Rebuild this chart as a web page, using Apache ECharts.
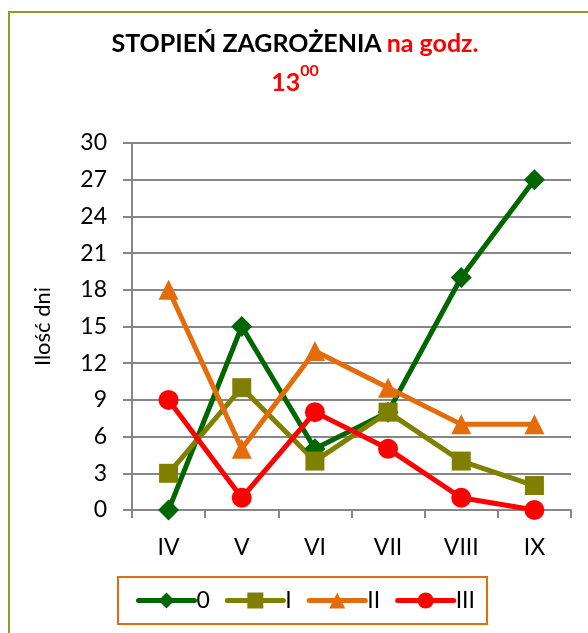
<!DOCTYPE html>
<html>
<head>
<meta charset="utf-8">
<script src="https://cdn.jsdelivr.net/npm/echarts@6/dist/echarts.min.js"></script>
<style>
  html, body { margin: 0; padding: 0; background: #fff; }
  #chart { width: 588px; height: 633px; }
</style>
</head>
<body>
<div id="chart"></div>
<script>
// miesiące
const months = ['IV', 'V', 'VI', 'VII', 'VIII', 'IX']
// stopnie zagrożenia
const level0 = [0, 15, 5, 8, 19, 27]
const level1 = [3, 10, 4, 8, 4, 2]
const level2 = [18, 5, 13, 10, 7, 7]
const level3 = [9, 1, 8, 5, 1, 0]
const seriesNames = ['0', 'I', 'II', 'III']
const yTicks = [0, 3, 6, 9, 12, 15, 18, 21, 24, 27, 30]

const font = 'Lato, "Open Sans", sans-serif'
const gray = '#878787'

const chart = echarts.init(document.getElementById('chart'))

const makeSeries = (name, data, color, symbol, size) => ({
  name,
  type: 'line',
  data,
  symbol,
  symbolSize: size,
  showSymbol: true,
  lineStyle: { color, width: 5 },
  itemStyle: { color },
  emphasis: { disabled: true }
})

chart.setOption({
  animation: false,
  backgroundColor: '#fff',
  graphic: [{
    type: 'rect',
    shape: { x: 9, y: 12, width: 640, height: 700 },
    style: { fill: 'none', stroke: '#939a2c', lineWidth: 2 }
  }],
  title: {
    text: '{b|STOPIEŃ ZAGROŻENIA} {r|na godz.}\n{r|13}{s|00}',
    left: 290,
    textAlign: 'center',
    top: 19,
    textStyle: {
      rich: {
        b: { fontFamily: font, fontWeight: 'bold', fontSize: 25, color: '#000', lineHeight: 39 },
        r: { fontFamily: font, fontWeight: 'bold', fontSize: 25, color: '#ff0000', lineHeight: 39 },
        s: { fontFamily: font, fontWeight: 'bold', fontSize: 16, color: '#ff0000', lineHeight: 39, verticalAlign: 'top', padding: [0, 0, 10, 0] }
      }
    }
  },
  legend: {
    data: seriesNames,
    left: 118,
    top: 577,
    width: 373,
    padding: [12, 12, 12, 18],
    borderColor: '#e46c0a',
    borderWidth: 2,
    itemWidth: 56,
    itemHeight: 20,
    itemGap: 15,
    lineStyle: { width: 5, cap: 'round' },
    textStyle: { fontFamily: font, fontSize: 23, color: '#000', padding: [0, 0, 0, -3] }
  },
  grid: { left: 132, right: 17, top: 143, bottom: 123, containLabel: false },
  xAxis: {
    type: 'category',
    data: months,
    boundaryGap: true,
    axisLine: { lineStyle: { color: gray, width: 2 } },
    axisTick: { show: true, length: 8, lineStyle: { color: gray, width: 2 } },
    axisLabel: { fontFamily: font, fontSize: 23, color: '#000', margin: 26 }
  },
  yAxis: {
    type: 'value',
    min: yTicks[0],
    max: yTicks[yTicks.length - 1],
    interval: 3,
    name: 'Ilość dni',
    nameLocation: 'middle',
    nameGap: 78,
    nameRotate: 90,
    nameTextStyle: { fontFamily: font, fontSize: 22, color: '#000' },
    axisLine: { show: true, lineStyle: { color: gray, width: 2 } },
    axisTick: { show: true, length: 9, lineStyle: { color: gray, width: 2 } },
    splitLine: { show: true, lineStyle: { color: gray, width: 2 } },
    axisLabel: { fontFamily: font, fontSize: 23, color: '#000', margin: 25 }
  },
  series: [
    makeSeries(seriesNames[0], level0, '#006600', 'diamond', 21),
    makeSeries(seriesNames[1], level1, '#808000', 'rect', 19),
    makeSeries(seriesNames[2], level2, '#e46c0a', 'triangle', 20),
    makeSeries(seriesNames[3], level3, '#ff0000', 'circle', 20)
  ]
})
</script>
</body>
</html>
